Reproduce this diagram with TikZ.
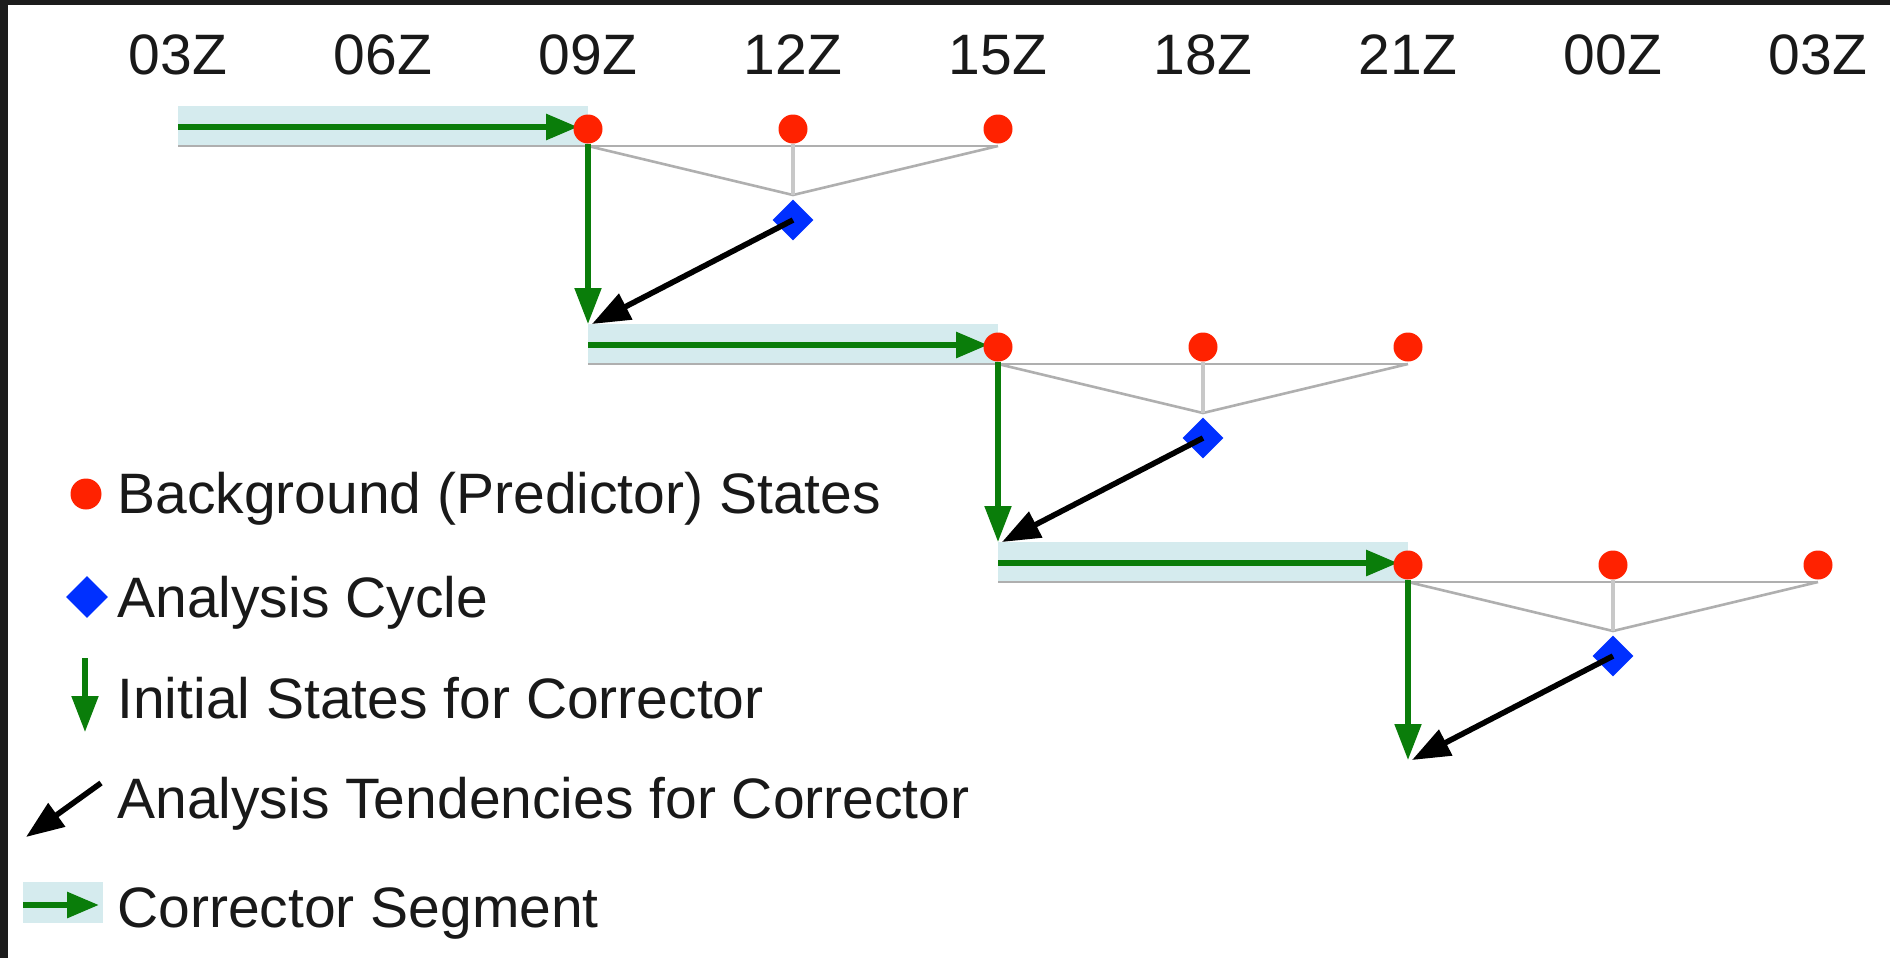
\documentclass[tikz,border=0pt]{standalone}
\usepackage{fontspec}
\setmainfont{Liberation Sans}
\usetikzlibrary{arrows.meta,shapes.geometric}
\definecolor{bandc}{RGB}{213,235,238}
\definecolor{redc}{RGB}{255,34,0}
\definecolor{bluec}{RGB}{0,48,255}
\definecolor{greenc}{RGB}{10,125,10}
\definecolor{grayc}{RGB}{175,175,175}
\definecolor{lgrayc}{RGB}{200,200,200}
\definecolor{borderc}{RGB}{28,28,28}
\definecolor{textc}{RGB}{25,25,25}
\begin{document}
\begin{tikzpicture}[x=0.5pt,y=-0.5pt,
  dot/.style={circle,fill=redc,inner sep=0pt,minimum size=14.5pt},
  dia/.style={diamond,fill=bluec,inner sep=0pt,minimum size=20.5pt},
  band/.style={fill=bandc},
  gline/.style={draw=grayc,line width=1.3pt},
  vline/.style={draw=lgrayc,line width=1.9pt},
  garrow/.style={draw=greenc,line width=3pt,-{Triangle[length=16pt,width=12.5pt]}},
  gdown/.style={draw=greenc,line width=2.6pt,-{Triangle[length=18pt,width=13pt]}},
  barrow/.style={draw=black,line width=2.8pt,-{Triangle[length=19pt,width=14pt]}},
  lab/.style={font=\fontsize{28.5pt}{34pt}\selectfont,text=textc,inner sep=0pt},
]
\useasboundingbox (0,0) rectangle (1890,958);
\fill[borderc] (0,0) rectangle (1890,958);
\fill[white] (8,5) rectangle (1890,958);

% header
\foreach \t [count=\i from 0] in {03Z,06Z,09Z,12Z,15Z,18Z,21Z,00Z,03Z}
  \node[lab,anchor=base] (h\i) at ({178+205*\i},74) {\t};

% rows
\foreach \r in {0,1,2}{
  \pgfmathsetmacro\Y{129+218*\r}
  \pgfmathsetmacro\xa{178+410*\r}
  \pgfmathsetmacro\xb{\xa+410}
  \pgfmathsetmacro\xc{\xb+205}
  \pgfmathsetmacro\xd{\xb+410}
  \fill[band] (\xa,\Y-23) rectangle (\xb,\Y+18);
  \coordinate (s\r) at (\xa,\Y-2);
  \coordinate (gl\r) at (\xa,\Y+17);
  \coordinate (ga\r) at (\xb,\Y+17);
  \coordinate (gr\r) at (\xd,\Y+17);
  \coordinate (ap\r) at (\xc,\Y+66);
  \coordinate (t\r) at (\xb,\Y+195);
  \coordinate (tb\r) at (\xb+4,\Y+195);
  \draw[gline] (gl\r) -- (gr\r);
  \draw[gline] (ga\r) -- (ap\r) -- (gr\r);
  \draw[garrow] (s\r) -- (\xb-10,\Y-2);
  \node[dot] (p\r a) at (\xb,\Y) {};
  \node[dot] (p\r b) at (\xc,\Y) {};
  \node[dot] (p\r c) at (\xd,\Y) {};
  \draw[vline] (p\r b.south) -- (ap\r);
  \draw[gdown] (p\r a.south) -- (t\r);
  \node[dia] (a\r) at (\xc,\Y+91) {};
  \draw[barrow] (a\r.center) -- (tb\r);
}

% legend
\node[dot,minimum size=15.5pt] (k1) at (86,494) {};
\node[lab,anchor=base west] (l1) at (117,513) {Background (Predictor) States};
\node[dia,minimum size=21pt] (k2) at (87,597) {};
\node[lab,anchor=base west] (l2) at (117,617) {Analysis Cycle};
\coordinate (k3a) at (85,658);
\coordinate (k3b) at (85,732);
\draw[gdown] (k3a) -- (k3b);
\node[lab,anchor=base west] (l3) at (117,718) {Initial States for Corrector};
\coordinate (k4a) at (101,783);
\coordinate (k4b) at (26,837);
\draw[barrow] (k4a) -- (k4b);
\node[lab,anchor=base west] (l4) at (117,818) {Analysis Tendencies for Corrector};
\fill[band] (23,882) rectangle (103,923);
\coordinate (k5a) at (23,905);
\coordinate (k5b) at (99,905);
\draw[garrow] (k5a) -- (k5b);
\node[lab,anchor=base west] (l5) at (117,927) {Corrector Segment};
\end{tikzpicture}
\end{document}
